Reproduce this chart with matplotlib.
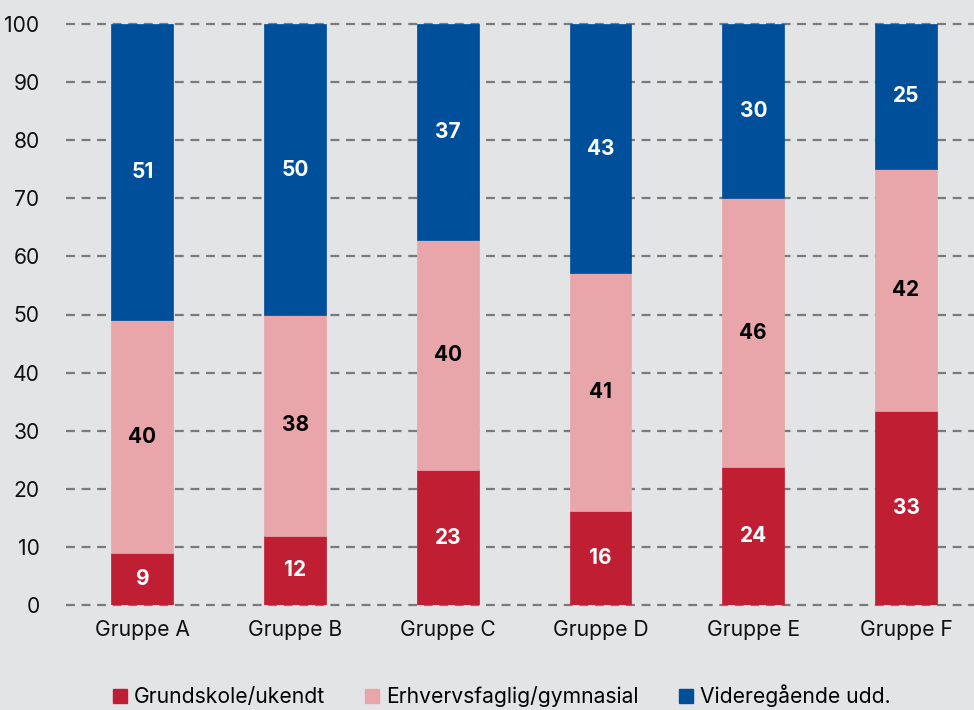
import matplotlib
matplotlib.use("Agg")
import matplotlib.pyplot as plt
from matplotlib.lines import Line2D
import numpy as np

categories = ["Gruppe A", "Gruppe B", "Gruppe C", "Gruppe D", "Gruppe E", "Gruppe F"]
grundskole = [9.0, 11.9, 23.2, 16.2, 23.8, 33.4]
erhverv = [40.0, 38.0, 39.6, 40.9, 46.2, 41.7]
videre = [51.0, 50.1, 37.2, 42.9, 30.0, 24.9]
series_names = ["Grundskole/ukendt", "Erhvervsfaglig/gymnasial", "Videregående udd."]
yticks = [0, 10, 20, 30, 40, 50, 60, 70, 80, 90, 100]

colors = ["#c01e32", "#e8a6ab", "#004f9a"]
text_colors = ["white", "black", "white"]
bg = "#e3e4e6"

plt.rcParams["font.family"] = ["Inter", "DejaVu Sans"]

fig = plt.figure(figsize=(9.74, 7.10), dpi=100, facecolor=bg)
ax = fig.add_axes([66/974, 1-605/710, 1-66/974, (605-24)/710])
ax.set_facecolor(bg)

x = np.arange(len(categories))
width = 0.405
bottom = np.zeros(len(categories))
for vals, col, tc, name in zip([grundskole, erhverv, videre], colors, text_colors, series_names):
    vals = np.array(vals)
    ax.bar(x, vals, width, bottom=bottom, color=col, label=name, zorder=3,
           edgecolor=col, linewidth=0.5)
    for xi, b, v in zip(x, bottom, vals):
        ax.text(xi, b + v/2, f"{v:.0f}", ha="center", va="center", color=tc,
                fontsize=15, fontweight="bold", zorder=4)
    bottom = bottom + vals

for t in yticks:
    ax.axhline(t, color="#7a7a7a", linestyle=(0, (4, 3)), linewidth=1.6, zorder=1, clip_on=False)

ax.set_ylim(0, 100)
ax.set_xlim(-0.5, 5.445)
ax.set_yticks(yticks)
ax.set_xticks(x)
ax.set_xticklabels(categories)
ax.tick_params(axis="both", length=0, labelsize=15.2, colors="#111111")
ax.tick_params(axis="y", pad=19)
ax.tick_params(axis="x", pad=11)
for s in ax.spines.values():
    s.set_visible(False)

handles = [Line2D([0], [0], marker="s", linestyle="none", markersize=10,
                  markerfacecolor=c, markeredgecolor=c) for c in colors]
fig.legend(handles, series_names, loc="center", bbox_to_anchor=(0.513, 1-696/710),
           ncol=3, frameon=False, fontsize=15.2, handletextpad=0.15, columnspacing=1.75,
           handlelength=1.0, borderaxespad=0)

fig.savefig("out.png", dpi=100, facecolor=bg)
